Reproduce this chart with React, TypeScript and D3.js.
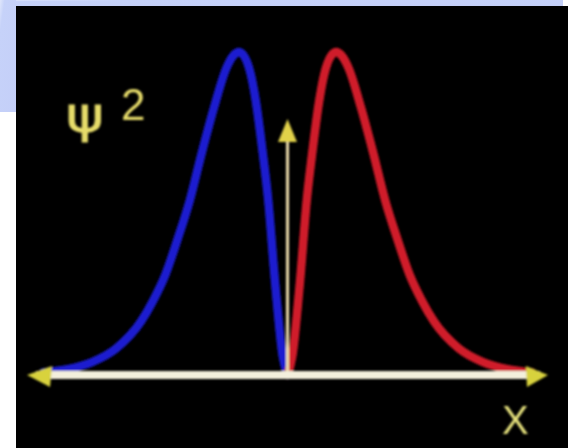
import React from "react";
import * as d3 from "d3";

// Probability density ψ² along x, for one lobe (x in units of the peak position)
const xPositions = [0, 0.1, 0.25, 0.4, 0.5, 0.65, 0.75, 0.9, 1, 1.1, 1.25, 1.5, 1.75, 2, 2.25, 2.5, 2.75, 3, 3.5, 4, 4.5, 5];
const rightLobe = [0, 0.06, 0.28, 0.55, 0.68, 0.85, 0.93, 0.99, 1, 0.99, 0.95, 0.83, 0.69, 0.54, 0.42, 0.31, 0.23, 0.165, 0.083, 0.04, 0.018, 0.008];
const leftLobe = [0, 0.06, 0.28, 0.55, 0.68, 0.85, 0.93, 0.99, 1, 0.99, 0.95, 0.83, 0.69, 0.54, 0.42, 0.31, 0.23, 0.165, 0.083, 0.04, 0.018, 0.008];
const yAxisLabel = "ψ";
const yAxisPower = "2";
const xAxisLabel = "X";

const W = 568;
const H = 448;

export default function App() {
  const x = d3.scaleLinear().domain([-5.33, 5.33]).range([27, 548]);
  const y = d3.scaleLinear().domain([0, 1]).range([375, 52]);

  const line = d3
    .line<[number, number]>()
    .x((d) => x(d[0]))
    .y((d) => y(d[1]))
    .curve(d3.curveMonotoneX);

  const redPts: [number, number][] = xPositions.map((p, i) => [p, rightLobe[i]]);
  const bluePts: [number, number][] = xPositions
    .map((p, i) => [-p, leftLobe[i]] as [number, number])
    .reverse();

  const x0 = x(0);
  const y0 = y(0);
  const arrowTop = 119;

  return (
    <svg
      width={W}
      height={H}
      style={{ position: "absolute", left: 0, top: 0, display: "block" }}
    >
      <defs>
        <filter id="soft" x="-10%" y="-10%" width="120%" height="120%">
          <feGaussianBlur stdDeviation="0.9" />
        </filter>
        <linearGradient id="sky" x1="0" y1="0" x2="1" y2="1">
          <stop offset="0" stopColor="#dfe6fb" />
          <stop offset="0.15" stopColor="#c6d2f9" />
          <stop offset="1" stopColor="#c4cff8" />
        </linearGradient>
      </defs>
      <rect x={0} y={0} width={W} height={H} fill="#ffffff" />
      <rect x={0} y={0} width={563} height={6} fill="url(#sky)" />
      <rect x={0} y={0} width={16} height={112} fill="url(#sky)" />
      <rect x={16} y={6} width={W - 16} height={H - 6} fill="#000000" />

      <g filter="url(#soft)">
        <path d={line(bluePts) || ""} fill="none" stroke="#1a1ed0" strokeWidth={8.5} strokeLinecap="round" />
        <path d={line(redPts) || ""} fill="none" stroke="#d01c2a" strokeWidth={8.5} strokeLinecap="round" />

        {/* vertical ψ² axis */}
        <line x1={x0} y1={y0} x2={x0} y2={arrowTop + 18} stroke="#ecdcaa" strokeWidth={3} />
        <path
          d={`M${x0},${arrowTop} L${x0 + 9.5},${arrowTop + 23} L${x0 - 9.5},${arrowTop + 23} Z`}
          fill="#e2d24a"
        />

        {/* horizontal x axis */}
        <line x1={36} y1={y0} x2={540} y2={y0} stroke="#f3efdc" strokeWidth={8} />
        <path d={`M27,${y0} L52,${y0 - 9} L50,${y0 + 12} Z`} fill="#d8d23e" />
        <path d={`M548,${y0} L526,${y0 - 9} L527,${y0 + 12} Z`} fill="#d8d23e" />

        <text
          x={0}
          y={0}
          transform="translate(66,132) scale(1.3,1.15)"
          fill="#e6dc6a"
          stroke="#e6dc6a"
          strokeWidth={0.8}
          fontFamily="DejaVu Sans, sans-serif"
          fontSize={44}
        >
          {yAxisLabel}
        </text>
        <text x={121} y={120} fill="#e6dc6a" fontFamily="Liberation Sans, Arial, sans-serif" fontSize={44}>
          {yAxisPower}
        </text>
        <text x={502} y={434} fill="#e4e07c" fontFamily="Liberation Sans, Arial, sans-serif" fontSize={40}>
          {xAxisLabel}
        </text>
      </g>
    </svg>
  );
}
